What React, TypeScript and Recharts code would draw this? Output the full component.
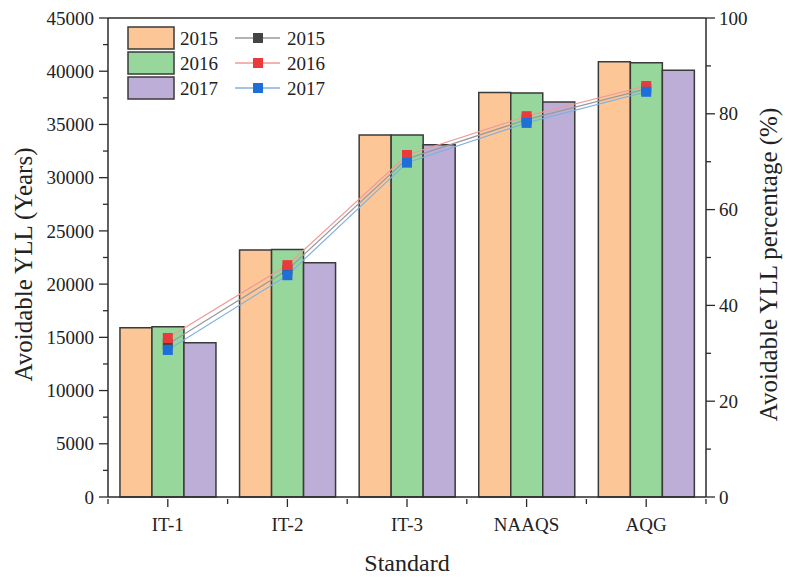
import { ComposedChart, Bar, Line, XAxis, YAxis, ReferenceLine } from 'recharts';

// Avoidable YLL by air-quality standard, 2015-2017 (bars = years, lines = %)
const categories = ['IT-1', 'IT-2', 'IT-3', 'NAAQS', 'AQG'];
const yll2015 = [15900, 23200, 34000, 38000, 40900];
const yll2016 = [16000, 23250, 34000, 37950, 40800];
const yll2017 = [14500, 22000, 33100, 37100, 40100];
const pct2015 = [31.9, 47.4, 70.6, 78.8, 85.2];
const pct2016 = [33.2, 48.4, 71.4, 79.5, 85.8];
const pct2017 = [30.7, 46.3, 69.8, 78.1, 84.6];
const legendYears = ['2015', '2016', '2017'];

const leftTicks = [0, 2500, 5000, 7500, 10000, 12500, 15000, 17500, 20000, 22500, 25000, 27500, 30000, 32500, 35000, 37500, 40000, 42500, 45000];
const rightTicks = [0, 10, 20, 30, 40, 50, 60, 70, 80, 90, 100];

const data = categories.map((c, i) => ({
  name: c,
  y15: yll2015[i], y16: yll2016[i], y17: yll2017[i],
  p15: pct2015[i], p16: pct2016[i], p17: pct2017[i],
}));

const FONT = '"Liberation Serif", "Times New Roman", serif';
const AXIS = '#2b2b2b';
const BAR_COLORS = ['#fdc697', '#97d79c', '#bcaed6'];
const LINE_COLORS = ['#9a9a9a', '#f09a9a', '#7fb0e2'];
const DOT_COLORS = ['#444444', '#ea3a3c', '#1f6fd8'];
const HALF_BAND = 59.8;

const LeftTick = (p: any) => {
  const v = p.payload.value;
  const major = v % 5000 === 0;
  return (
    <g>
      <line x1={p.x} x2={p.x - (major ? 9 : 5)} y1={p.y} y2={p.y} stroke={AXIS} strokeWidth={1.3} />
      {major && (
        <text x={p.x - 14} y={p.y} dy="0.35em" textAnchor="end" fontSize={19} fontFamily={FONT} fill="#222">{v}</text>
      )}
    </g>
  );
};

const RightTick = (p: any) => {
  const v = p.payload.value;
  const major = v % 20 === 0;
  return (
    <g>
      <line x1={p.x} x2={p.x + (major ? 9 : 5)} y1={p.y} y2={p.y} stroke={AXIS} strokeWidth={1.3} />
      {major && (
        <text x={p.x + 13} y={p.y} dy="0.35em" textAnchor="start" fontSize={19} fontFamily={FONT} fill="#222">{v}</text>
      )}
    </g>
  );
};

const BottomTick = (p: any) => {
  const last = p.index === categories.length - 1;
  return (
    <g>
      <line x1={p.x} x2={p.x} y1={p.y} y2={p.y + 8} stroke={AXIS} strokeWidth={1.3} />
      <line x1={p.x - HALF_BAND} x2={p.x - HALF_BAND} y1={p.y} y2={p.y + 5} stroke={AXIS} strokeWidth={1.3} />
      {last && <line x1={p.x + HALF_BAND} x2={p.x + HALF_BAND} y1={p.y} y2={p.y + 5} stroke={AXIS} strokeWidth={1.3} />}
      <text x={p.x} y={p.y + 32} textAnchor="middle" fontSize={19} fontFamily={FONT} fill="#222">{p.payload.value}</text>
    </g>
  );
};

const squareDot = (color: string) => (p: any) => (
  <rect key={p.index} x={p.cx - 5} y={p.cy - 5} width={10} height={10} fill={color} />
);

// rotated axis title, centred a little below the middle of the axis like the original
const axisTitle = (text: string, dx: number) => (p: any) => {
  const vb = p.viewBox;
  const cx = vb.x + dx;
  const cy = vb.y + vb.height / 2 + 7;
  return (
    <text x={cx} y={cy} transform={`rotate(-90 ${cx} ${cy})`} textAnchor="middle" dominantBaseline="central" fontSize={25} fontFamily={FONT} fill="#222">
      {text}
    </text>
  );
};

const LegendBox = () => (
  <svg width={240} height={85} style={{ position: 'absolute', left: 120, top: 20 }}>
    {legendYears.map((yr, i) => {
      const y = 7 + i * 25;
      return (
        <g key={yr}>
          <rect x={8} y={y} width={46} height={22} fill={BAR_COLORS[i]} stroke="#3a3a3a" strokeWidth={1.5} />
          <text x={60} y={y + 11} dy="0.35em" fontSize={19} fontFamily={FONT} fill="#222">{yr}</text>
          <line x1={115} x2={160} y1={y + 11} y2={y + 11} stroke={LINE_COLORS[i]} strokeWidth={1.3} />
          <rect x={133} y={y + 6} width={10} height={10} fill={DOT_COLORS[i]} />
          <text x={167} y={y + 11} dy="0.35em" fontSize={19} fontFamily={FONT} fill="#222">{yr}</text>
        </g>
      );
    })}
  </svg>
);

export default function App() {
  return (
    <div style={{ position: 'absolute', left: 0, top: 0, width: 785, height: 578, background: '#fff' }}>
      <ComposedChart
        width={785}
        height={578}
        data={data}
        margin={{ top: 18, right: 0, bottom: 0, left: 0 }}
        barCategoryGap="10%"
        barGap={0}
      >
        <XAxis
          dataKey="name"
          height={81}
          axisLine={{ stroke: AXIS, strokeWidth: 1.5 }}
          tickLine={false}
          tickSize={0}
          tick={<BottomTick />}
          interval={0}
          label={{ value: 'Standard', position: 'insideBottom', offset: 7, fontSize: 24, fontFamily: FONT, fill: '#222' }}
        />
        <YAxis
          yAxisId="left"
          width={108}
          domain={[0, 45000]}
          ticks={leftTicks}
          interval={0}
          axisLine={{ stroke: AXIS, strokeWidth: 1.5 }}
          tickLine={false}
          tickSize={0}
          tickMargin={0}
          tick={<LeftTick />}
          label={{ content: axisTitle('Avoidable YLL (Years)', 23) }}
        />
        <YAxis
          yAxisId="right"
          orientation="right"
          width={79}
          domain={[0, 100]}
          ticks={rightTicks}
          interval={0}
          axisLine={{ stroke: AXIS, strokeWidth: 1.5 }}
          tickLine={false}
          tickSize={0}
          tickMargin={0}
          tick={<RightTick />}
          label={{ content: axisTitle('Avoidable YLL percentage (%)', 62) }}
        />
        <ReferenceLine yAxisId="left" y={45000} stroke={AXIS} strokeWidth={1.5} />
        <Bar yAxisId="left" dataKey="y15" fill={BAR_COLORS[0]} stroke="#3a3a3a" strokeWidth={1.5} isAnimationActive={false} />
        <Bar yAxisId="left" dataKey="y16" fill={BAR_COLORS[1]} stroke="#3a3a3a" strokeWidth={1.5} isAnimationActive={false} />
        <Bar yAxisId="left" dataKey="y17" fill={BAR_COLORS[2]} stroke="#3a3a3a" strokeWidth={1.5} isAnimationActive={false} />
        <Line yAxisId="right" dataKey="p15" stroke={LINE_COLORS[0]} strokeWidth={1.2} dot={squareDot(DOT_COLORS[0])} isAnimationActive={false} />
        <Line yAxisId="right" dataKey="p16" stroke={LINE_COLORS[1]} strokeWidth={1.2} dot={squareDot(DOT_COLORS[1])} isAnimationActive={false} />
        <Line yAxisId="right" dataKey="p17" stroke={LINE_COLORS[2]} strokeWidth={1.2} dot={squareDot(DOT_COLORS[2])} isAnimationActive={false} />
      </ComposedChart>
      <LegendBox />
    </div>
  );
}
